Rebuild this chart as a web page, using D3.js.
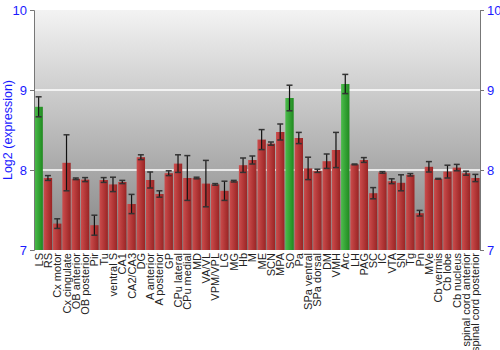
<!DOCTYPE html>
<html><head><meta charset="utf-8">
<script src="https://cdn.jsdelivr.net/npm/d3@7"></script>
<style>body{margin:0;background:#fff}svg{display:block}</style>
</head><body>
<svg id="c" width="500" height="350"></svg>
<script>
const categories = ["LS","RS","Cx motor","Cx cingulate","OB anterior","OB posterior","Pir","Tu","ventral S","CA1","CA2/CA3","DG","A anterior","A posterior","GP","CPu lateral","CPu medial","MD","VA/VL","VPM/VPL","LG","MG","Hb","M","ME","SCN","MPA","SO","Pa","SPa ventral","SPa dorsal","DM","VMH","Arc","LH","PAG","SC","IC","VTA","SN","Tg","Pn","MVe","Cb vermis","Cb lobe","Cb nucleus","spinal cord anterior","spinal cord posterior"];
const values = [8.79,7.90,7.33,8.09,7.89,7.88,7.31,7.875,7.82,7.85,7.575,8.16,7.875,7.70,7.96,8.08,7.90,7.90,7.83,7.82,7.74,7.86,8.06,8.125,8.38,8.33,8.475,8.90,8.40,8.02,7.99,8.11,8.25,9.075,8.07,8.125,7.71,7.97,7.86,7.84,7.94,7.46,8.04,7.89,7.98,8.03,7.96,7.90];
const errors = [0.125,0.03,0.06,0.35,0.01,0.025,0.125,0.03,0.09,0.02,0.12,0.03,0.1,0.04,0.03,0.11,0.28,0.01,0.29,0.01,0.12,0.01,0.09,0.05,0.125,0.02,0.1,0.16,0.07,0.14,0.02,0.09,0.22,0.12,0.005,0.03,0.07,0.01,0.03,0.1,0.015,0.035,0.065,0.005,0.08,0.04,0.025,0.045];
const highlighted = ["LS","SO","Arc"];
const yTicks = [7,8,9,10];

const svg = d3.select("#c");
const L = 34, R = 480, T = 10, B = 250;
const x = d3.scaleBand().domain(categories).range([L, R]).paddingInner(0.1).paddingOuter(0.05);
const y = d3.scaleLinear().domain([7, 10]).range([B, T]);

const defs = svg.append("defs");
const bg = defs.append("linearGradient").attr("id","bg").attr("x1",0).attr("y1",0).attr("x2",0).attr("y2",1);
bg.append("stop").attr("offset","0%").attr("stop-color","#f3f3f3");
bg.append("stop").attr("offset","100%").attr("stop-color","#838383");
const gr = defs.append("linearGradient").attr("id","gr").attr("x1",0).attr("y1",0).attr("x2",1).attr("y2",0);
gr.append("stop").attr("offset","0%").attr("stop-color","#4cbc4c");
gr.append("stop").attr("offset","100%").attr("stop-color","#1f8a1f");
const rd = defs.append("linearGradient").attr("id","rd").attr("x1",0).attr("y1",0).attr("x2",1).attr("y2",0);
rd.append("stop").attr("offset","0%").attr("stop-color","#cc4c4c");
rd.append("stop").attr("offset","100%").attr("stop-color","#9a2424");

svg.append("rect").attr("x",L).attr("y",T).attr("width",R-L).attr("height",B-T).attr("fill","url(#bg)");

svg.append("g").selectAll("line").data([8,9]).join("line")
  .attr("x1",L).attr("x2",R).attr("y1",d=>y(d)).attr("y2",d=>y(d))
  .attr("stroke","#fff").attr("stroke-width",1.5);

svg.append("g").selectAll("rect").data(categories).join("rect")
  .attr("x",d=>x(d)).attr("width",x.bandwidth())
  .attr("y",(d,i)=>y(values[i])).attr("height",(d,i)=>B-y(values[i]))
  .attr("fill",d=>highlighted.includes(d)?"url(#gr)":"url(#rd)");

const eb = svg.append("g");
categories.forEach((c,i)=>{
  const cx = x(c)+x.bandwidth()/2;
  const y1 = y(values[i]+errors[i]), y2 = y(values[i]-errors[i]);
  eb.append("line").attr("x1",cx).attr("x2",cx).attr("y1",y1).attr("y2",y2).attr("stroke","#111").attr("stroke-width",1.2);
  [y1,y2].forEach(yy=>eb.append("line").attr("x1",cx-3).attr("x2",cx+3).attr("y1",yy).attr("y2",yy).attr("stroke","#333").attr("stroke-width",1.5));
});

const fmt = d3.format("d");
const yl = svg.append("g").attr("transform",`translate(${L},0)`).call(d3.axisLeft(y).tickValues(yTicks).tickFormat(fmt).tickSize(4).tickPadding(3));
const yr = svg.append("g").attr("transform",`translate(${R},0)`).call(d3.axisRight(y).tickValues(yTicks).tickFormat(fmt).tickSize(4).tickPadding(3));
[yl,yr].forEach(g=>{
  g.select(".domain").attr("stroke","#777");
  g.selectAll(".tick line").attr("stroke","#777");
  g.selectAll("text").attr("fill","#1a1aff").attr("font-family","Liberation Sans, Arial, sans-serif").attr("font-size",13);
});

svg.append("text").attr("transform",`translate(12,130) rotate(-90)`)
  .attr("text-anchor","middle").attr("font-family","Liberation Sans, Arial, sans-serif").attr("font-size",12.5)
  .attr("fill","#1a1aff").text("Log2 (expression)");

svg.append("g").selectAll("text").data(categories).join("text")
  .attr("transform",d=>`translate(${x(d)+x.bandwidth()/2+4},${B+3}) rotate(-90)`)
  .attr("text-anchor","end").attr("font-family","Liberation Sans, Arial, sans-serif").attr("font-size",11)
  .attr("fill","#222").text(d=>d);
</script>
</body></html>
